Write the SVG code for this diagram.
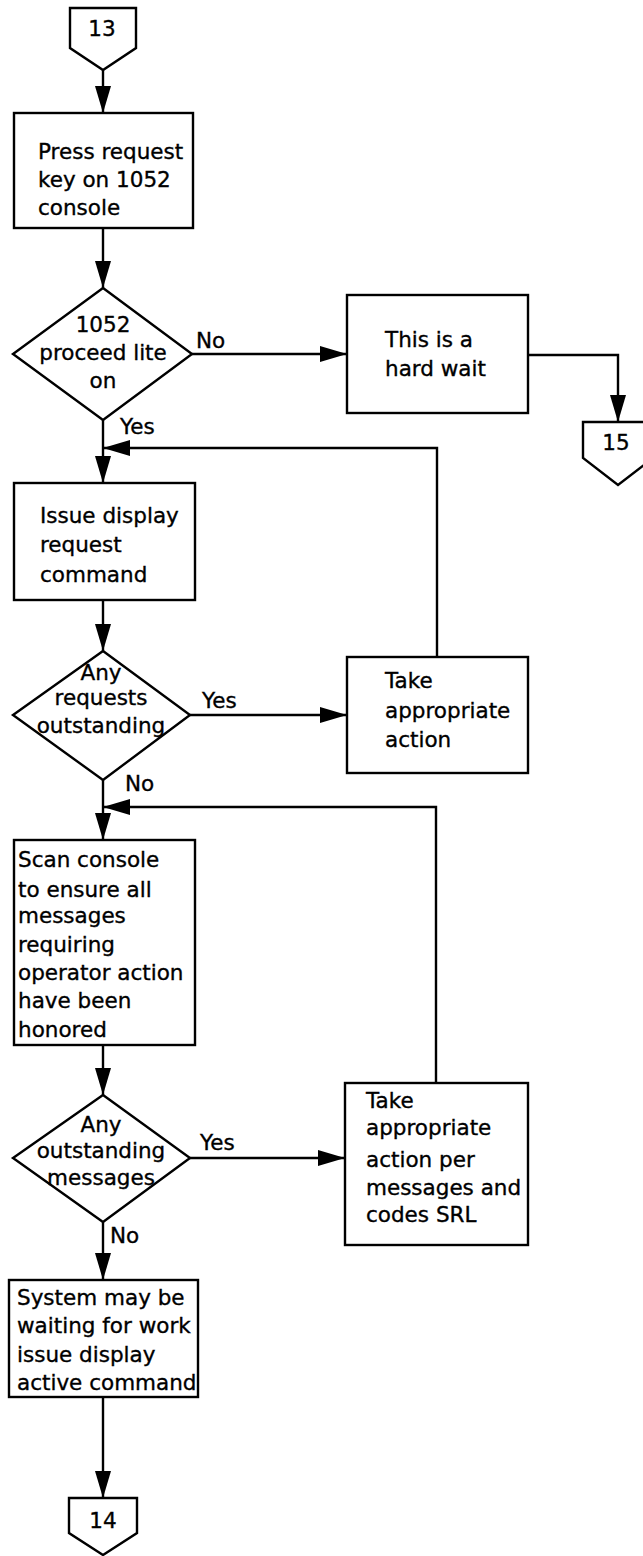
<svg xmlns="http://www.w3.org/2000/svg" width="643" height="1556" viewBox="0 0 643 1556">
<style>
.s{fill:#fff;stroke:#000;stroke-width:2.4}
.c{fill:none;stroke:#000;stroke-width:2.4}
text{font-family:"DejaVu Sans","Liberation Sans",sans-serif;font-size:21.5px;fill:#000;stroke:#000;stroke-width:0.35}
.m{text-anchor:middle}
</style>
<defs>
<marker id="ah" markerUnits="userSpaceOnUse" markerWidth="28" markerHeight="16" refX="27" refY="8" orient="auto">
<path d="M0,0 L27,8 L0,16 z" fill="#000"/>
</marker>
</defs>
<rect width="643" height="1556" fill="#fff"/>
<g id="connectors">
<path class="c" d="M103,70 V113" marker-end="url(#ah)"/>
<path class="c" d="M103,228 V288" marker-end="url(#ah)"/>
<path class="c" d="M192,354 H347" marker-end="url(#ah)"/>
<path class="c" d="M528,355 H618 V422" marker-end="url(#ah)"/>
<path class="c" d="M103,420 V483" marker-end="url(#ah)"/>
<path class="c" d="M437,657 V448 H103" marker-end="url(#ah)"/>
<path class="c" d="M103,600 V651" marker-end="url(#ah)"/>
<path class="c" d="M190,715 H347" marker-end="url(#ah)"/>
<path class="c" d="M103,780 V840" marker-end="url(#ah)"/>
<path class="c" d="M436,1083 V807 H103" marker-end="url(#ah)"/>
<path class="c" d="M103,1045 V1095" marker-end="url(#ah)"/>
<path class="c" d="M190,1158 H345" marker-end="url(#ah)"/>
<path class="c" d="M103,1222 V1280" marker-end="url(#ah)"/>
<path class="c" d="M103,1397 V1498" marker-end="url(#ah)"/>
<text x="196" y="348">No</text>
<text x="120" y="434">Yes</text>
<text x="202" y="708">Yes</text>
<text x="125" y="791">No</text>
<text x="200" y="1150">Yes</text>
<text x="110" y="1243">No</text>
</g>
<g id="n13">
<polygon class="s" points="70,8 136,8 136,48 103,70 70,48"/>
<text class="m" x="102" y="36">13</text>
</g>
<g id="n_press">
<rect class="s" x="14" y="113" width="179" height="115"/>
<text x="38" y="159">Press request</text>
<text x="38" y="187">key on 1052</text>
<text x="38" y="215">console</text>
</g>
<g id="d_proceed">
<polygon class="s" points="103,288 192,354 103,420 13,354"/>
<text class="m" x="103" y="332">1052</text>
<text class="m" x="103" y="360">proceed lite</text>
<text class="m" x="103" y="388">on</text>
</g>
<g id="n_hardwait">
<rect class="s" x="347" y="295" width="181" height="118"/>
<text x="385" y="347">This is a</text>
<text x="385" y="376">hard wait</text>
</g>
<g id="n15">
<polygon class="s" points="583,422 653,422 653,458 618,485 583,458"/>
<text class="m" x="616" y="450">15</text>
</g>
<g id="n_issue">
<rect class="s" x="14" y="483" width="181" height="117"/>
<text x="40" y="523">Issue display</text>
<text x="40" y="552">request</text>
<text x="40" y="582">command</text>
</g>
<g id="d_requests">
<polygon class="s" points="103,651 190,715 103,780 13,715"/>
<text class="m" x="101" y="680">Any</text>
<text class="m" x="101" y="705">requests</text>
<text class="m" x="101" y="733">outstanding</text>
</g>
<g id="n_take1">
<rect class="s" x="347" y="657" width="181" height="116"/>
<text x="385" y="688">Take</text>
<text x="385" y="718">appropriate</text>
<text x="385" y="747">action</text>
</g>
<g id="n_scan">
<rect class="s" x="14" y="840" width="181" height="205"/>
<text x="18" y="867">Scan console</text>
<text x="18" y="897">to ensure all</text>
<text x="18" y="923">messages</text>
<text x="18" y="952">requiring</text>
<text x="18" y="980">operator action</text>
<text x="18" y="1008">have been</text>
<text x="18" y="1037">honored</text>
</g>
<g id="d_messages">
<polygon class="s" points="103,1095 190,1158 103,1222 13,1158"/>
<text class="m" x="101" y="1132">Any</text>
<text class="m" x="101" y="1158">outstanding</text>
<text class="m" x="101" y="1185">messages</text>
</g>
<g id="n_take2">
<rect class="s" x="345" y="1083" width="183" height="162"/>
<text x="366" y="1108">Take</text>
<text x="366" y="1135">appropriate</text>
<text x="366" y="1167">action per</text>
<text x="366" y="1195">messages and</text>
<text x="366" y="1222">codes SRL</text>
</g>
<g id="n_system">
<rect class="s" x="9" y="1280" width="189" height="117"/>
<text x="17" y="1305">System may be</text>
<text x="17" y="1333">waiting for work</text>
<text x="17" y="1362">issue display</text>
<text x="17" y="1390">active command</text>
</g>
<g id="n14">
<polygon class="s" points="69,1498 137,1498 137,1533 103,1555 69,1533"/>
<text class="m" x="103" y="1528">14</text>
</g>
</svg>
